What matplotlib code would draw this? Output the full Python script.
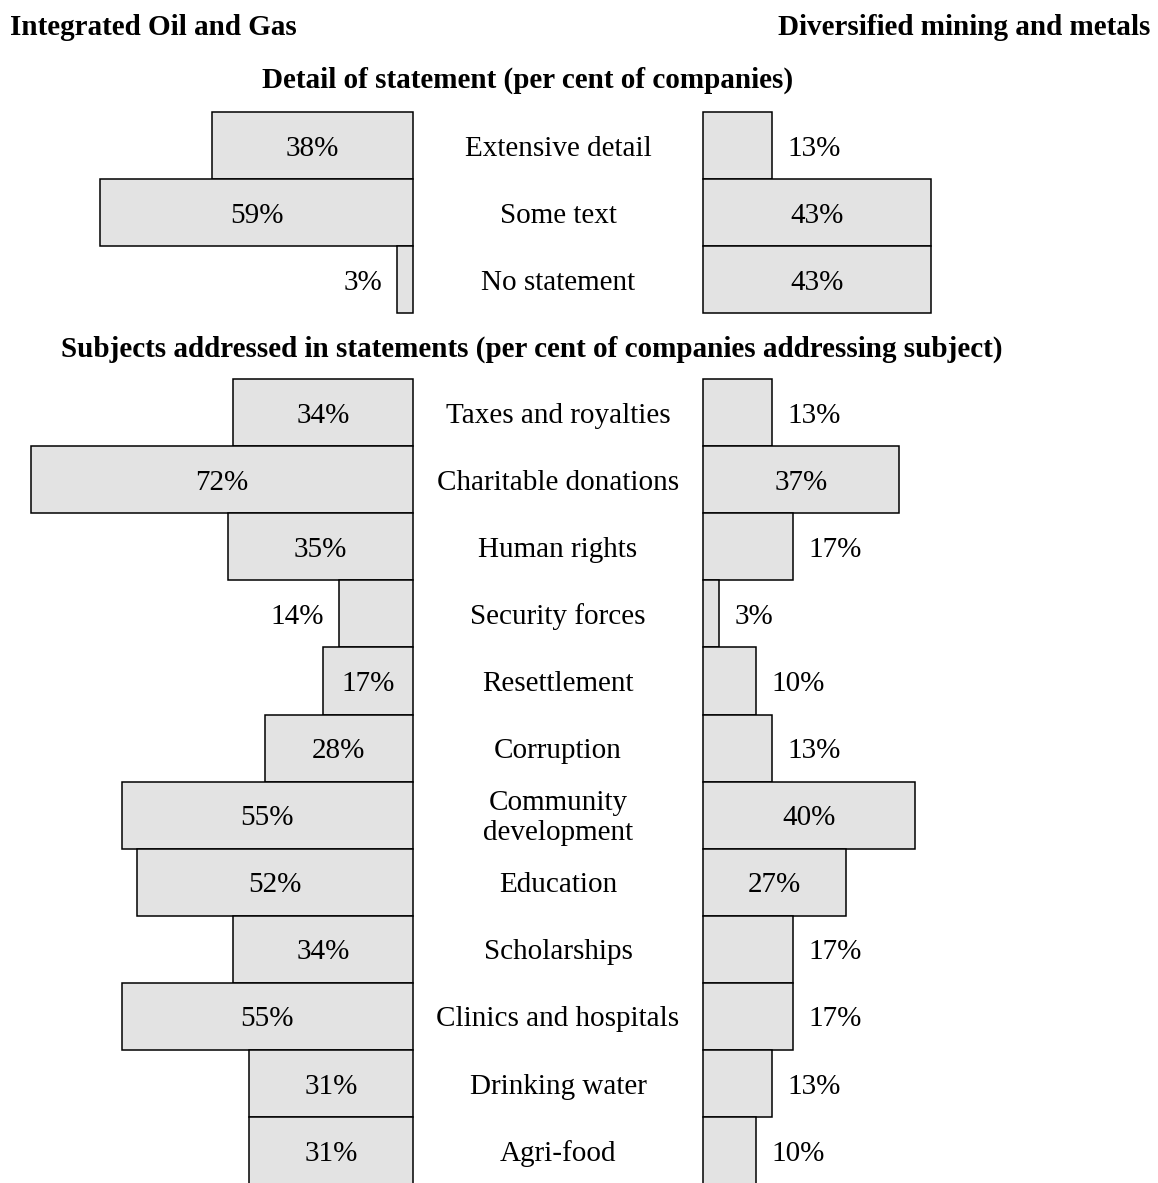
import matplotlib.pyplot as plt

plt.rcParams['font.family'] = ['Liberation Serif', 'DejaVu Serif']

# detail of statement
detail_labels = ['Extensive detail', 'Some text', 'No statement']
detail_oil = [38, 59, 3]
detail_mining = [13, 43, 43]

# subjects addressed
subject_labels = ['Taxes and royalties', 'Charitable donations', 'Human rights',
                  'Security forces', 'Resettlement', 'Corruption',
                  'Community\ndevelopment', 'Education', 'Scholarships',
                  'Clinics and hospitals', 'Drinking water', 'Agri-food']
subject_oil = [34, 72, 35, 14, 17, 28, 55, 52, 34, 55, 31, 31]
subject_mining = [13, 37, 17, 3, 10, 13, 40, 27, 17, 17, 13, 10]

W, H = 1158, 1183
PX = 5.3          # pixels per percentage point
ROW = 67.1        # row height in pixels
LEFT_END, RIGHT_START = 413, 703
FS = 21
BAR = '#e3e3e3'

fig = plt.figure(figsize=(W / 100, H / 100), dpi=100)


def box(x0, y0, x1, y1):
    return [x0 / W, 1 - y1 / H, (x1 - x0) / W, (y1 - y0) / H]


def section(top, labels, oil, mining):
    n = len(labels)
    bottom = top + n * ROW
    axl = fig.add_axes(box(0, top, LEFT_END, bottom))
    axm = fig.add_axes(box(LEFT_END, top, RIGHT_START, bottom))
    axr = fig.add_axes(box(RIGHT_START, top, W, bottom))
    axl.set_xlim(LEFT_END / PX, 0)
    axr.set_xlim(0, (W - RIGHT_START) / PX)
    for ax in (axl, axm, axr):
        ax.set_ylim(n - 0.5, -0.5)
        ax.axis('off')
    idx = list(range(n))

    for ax, vals, side in ((axl, oil, -1), (axr, mining, 1)):
        bars = ax.barh(idx, vals, height=1.0, color=BAR, edgecolor='black',
                       linewidth=1.1)
        for b in bars:
            b.set_clip_on(False)
        inside_min = 15 if side < 0 else 20
        for i, v in zip(idx, vals):
            txt = f'{v}%'
            if v >= inside_min:
                ax.text(v / 2, i, txt, ha='center', va='center_baseline',
                        fontsize=FS)
            else:
                ax.annotate(txt, (v, i), xytext=(11 * side, 0),
                            textcoords='offset points',
                            ha='left' if side > 0 else 'right',
                            va='center_baseline', fontsize=FS)

    for i, lab in zip(idx, labels):
        axm.text(0.5, i + (0.04 if '\n' in lab else 0), lab, ha='center',
                 va='center_baseline' if '\n' not in lab else 'center',
                 fontsize=FS, linespacing=1.2,
                 transform=axm.get_yaxis_transform())


fig.text(10 / W, 1 - 35 / H, 'Integrated Oil and Gas', fontsize=FS,
         fontweight='bold', ha='left', va='baseline')
fig.text(1150 / W, 1 - 35 / H, 'Diversified mining and metals', fontsize=FS,
         fontweight='bold', ha='right', va='baseline')
fig.text(528 / W, 1 - 88 / H, 'Detail of statement (per cent of companies)',
         fontsize=FS, fontweight='bold', ha='center', va='baseline')
fig.text(532 / W, 1 - 357 / H,
         'Subjects addressed in statements (per cent of companies addressing subject)',
         fontsize=FS, fontweight='bold', ha='center', va='baseline')

section(112, detail_labels, detail_oil, detail_mining)
section(379, subject_labels, subject_oil, subject_mining)

fig.savefig('out.png', dpi=100, facecolor='white')
